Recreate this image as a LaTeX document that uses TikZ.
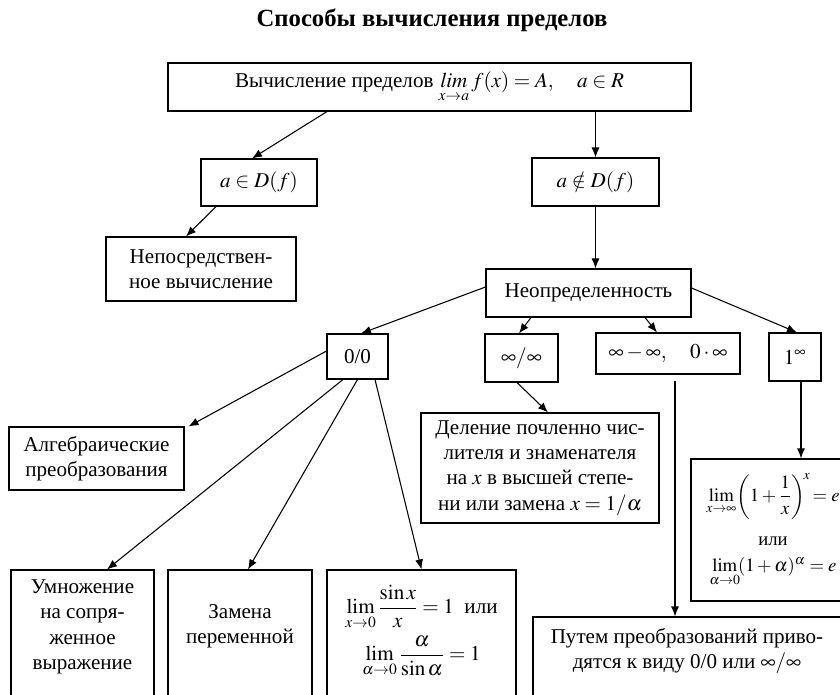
\documentclass[tikz,border=0pt]{standalone}
\usepackage{amsmath}
\usepackage{mathptmx}
\usepackage{fontspec}
\setmainfont{Liberation Serif}
\usetikzlibrary{arrows.meta,calc}

\begin{document}
\begin{tikzpicture}[x=0.75pt,y=-0.75pt,
    font=\fontsize{15.8}{19}\selectfont,
    cell/.style 2 args={draw, line width=0.8pt, minimum width=#1*0.75pt, minimum height=#2*0.75pt, inner sep=0pt, align=center},
    arr/.style={-{Latex[length=7.5pt,width=6pt]}, line width=0.8pt}]

            \useasboundingbox (0,0) rectangle (840,695);

            % Title
            \node[font=\fontsize{18.5}{22}\selectfont\bfseries] (title) at (432,20) {Способы вычисления пределов};

            % Top box and the two cases
            \node[cell={523}{48}] (limit) at (429.5,87) {Вычисление пределов $\mathop{\mathit{lim}}\limits_{x\to a} f(x)=A,\quad a\in R$};
            \node[cell={116}{47}] (inD) at (259,182.5) {$a\in D(f)$};
            \node[cell={127}{48}] (notinD) at (595.5,182) {$a\notin D(f)$};
            \node[cell={190}{64}] (direct) at (201,269) {Непосредствен-\\ное вычисление};
            \node[cell={205}{48}] (indet) at (588.5,293) {Неопределенность};

            % Kinds of indeterminacy
            \node[cell={61}{45}] (zz) at (357.5,356.5) {0/0};
            \node[cell={73}{48}] (ii) at (521.5,358) {$\infty/\infty$};
            \node[cell={144}{41}] (imi) at (668,353.5) {$\infty-\infty,\quad 0\cdot\infty$};
            \node[cell={52}{48}] (oneinf) at (795,357) {$1^{\infty}$};

            % Methods
            \node[cell={175}{63}] (alg) at (96.5,458.5) {Алгебраические\\преобразования};
            \node[cell={238}{110}] (div) at (540,468) {Деление почленно чис-\\лителя и знаменателя\\на $x$ в высшей степе-\\ни или замена $x=1/\alpha$};
            \node[cell={164}{142}, font=\fontsize{14}{17}\selectfont] (elim) at (773,530) {$\displaystyle\lim_{x\to\infty}\!\left(1+\frac{1}{x}\right)^{\!x}\!=e$\\[12pt]или\\[3pt]$\displaystyle\lim_{\alpha\to0}\!(1+\alpha)^{\alpha}=e$};

            % Bottom row (boxes run past the lower edge)
            \node[cell={143}{170}] (mult) at (82.5,655) {};
            \node[cell={144}{170}] (subst) at (240,655) {};
            \node[cell={189}{170}] (lims) at (421.5,655) {};
            \node[cell={309}{143}] (path) at (687.5,688.5) {};
            \node[align=center] (multtext) at (82.5,627) {Умножение\\на сопря-\\женное\\выражение};
            \node[align=center] (substtext) at (240,626) {Замена\\переменной};
            \node[align=center] (limstext) at (421.5,631) {$\displaystyle\lim_{x\to0}\frac{\sin x}{x}=1$\ \ или\\[4pt]$\displaystyle\lim_{\alpha\to0}\frac{\alpha}{\sin\alpha}=1$};
            \node[align=center] (pathtext) at (687,651) {Путем преобразований приво-\\дятся к виду 0/0 или $\infty/\infty$};

            % Arrows
            \coordinate (imiout) at ($(imi.south)+(7,6)$);
            \coordinate (oneout) at ($(oneinf.south)+(6,0)$);
            \draw[arr] ($(limit.south)+(-102.5,0)$) -- ($(inD.north)+(-7,0)$);
            \draw[arr] (limit.south -| notinD.north) -- (notinD.north);
            \draw[arr] ($(inD.south)+(-43,0)$) -- ($(direct.north)+(-15,0)$);
            \draw[arr] (notinD.south) -- (notinD.south |- indet.north);
            \draw[arr] ($(indet.west)+(0,-6)$) -- ($(zz.north)+(3.5,0)$);
            \draw[arr] ($(indet.south)+(-57.5,0)$) -- ($(ii.north)+(-2.5,0)$);
            \draw[arr] ($(indet.south)+(56.5,0)$) -- ($(imi.north)+(-11,0)$);
            \draw[arr] ($(indet.east)+(0,-5)$) -- ($(oneinf.north)+(2,0)$);
            \draw[arr] ($(ii.south)+(-4.5,0)$) -- ($(div.north)+(8,0)$);
            \draw[arr] (imiout) -- (imiout |- path.north);
            \draw[arr] (oneout) -- (oneout |- elim.north);
            \draw[arr] ($(zz.west)+(0,-5.5)$) -- ($(alg.north east)+(4,0)$);
            \draw[arr] ($(zz.south)+(-14.5,0)$) -- ($(mult.north)+(24.5,0)$);
            \draw[arr] (zz.south) -- ($(subst.north)+(8,0)$);
            \draw[arr] ($(zz.south)+(17.5,0)$) -- (lims.north);

\end{tikzpicture}
\end{document}
